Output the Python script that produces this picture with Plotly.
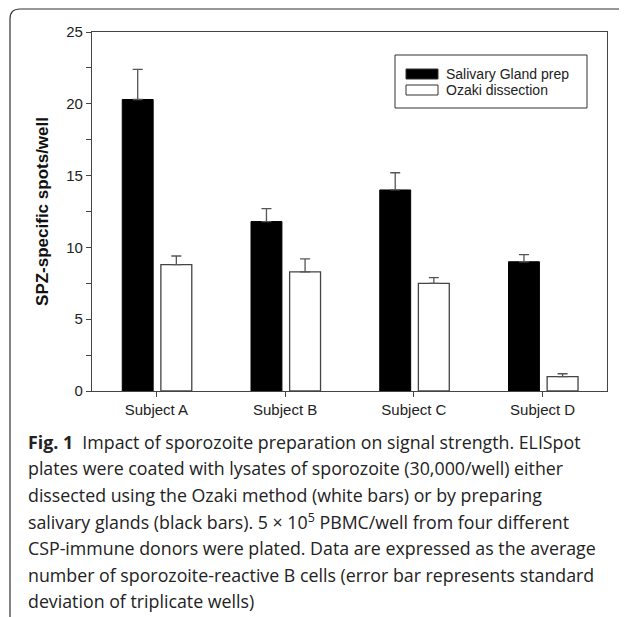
import plotly.graph_objects as go

# ---- data ----
subjects = ["Subject A", "Subject B", "Subject C", "Subject D"]
salivary_vals = [20.3, 11.8, 14.0, 9.0]
salivary_err = [2.1, 0.9, 1.2, 0.5]
ozaki_vals = [8.8, 8.3, 7.5, 1.0]
ozaki_err = [0.6, 0.9, 0.4, 0.2]
series_names = ["Salivary Gland prep", "Ozaki dissection"]
y_title = "SPZ-specific spots/well"
caption_lines = [
    "<b>Fig. 1</b>  Impact of sporozoite preparation on signal strength. ELISpot",
    "plates were coated with lysates of sporozoite (30,000/well) either",
    "dissected using the Ozaki method (white bars) or by preparing",
    "salivary glands (black bars). 5 × 10<sup>5</sup> PBMC/well from four different",
    "CSP-immune donors were plated. Data are expressed as the average",
    "number of sporozoite-reactive B cells (error bar represents standard",
    "deviation of triplicate wells)",
]

# ---- geometry (screen pixels; page body has an 8px margin) ----
SW, SH = 627, 617
OFF = 8
W, H = SW - OFF, SH - OFF
L, R, T, B = 92, 607, 32, 391


def px(x):
    return (x - L) / (R - L)


def py(y):
    return (B - y) / (B - T)


AX = "#444444"
FONT = "Liberation Sans, Arial, sans-serif"

fig = go.Figure()
fig.add_trace(go.Bar(
    x=subjects, y=salivary_vals, name=series_names[0],
    width=0.24, offset=-0.265,
    marker=dict(color="black", line=dict(color="black", width=1)),
    error_y=dict(type="data", array=salivary_err, arrayminus=[0] * 4,
                 symmetric=False, color="#555555", thickness=1.3, width=5),
    showlegend=False,
))
fig.add_trace(go.Bar(
    x=subjects, y=ozaki_vals, name=series_names[1],
    width=0.24, offset=0.035,
    marker=dict(color="white", line=dict(color="#444444", width=1.3)),
    error_y=dict(type="data", array=ozaki_err, arrayminus=[0] * 4,
                 symmetric=False, color="#555555", thickness=1.3, width=5),
    showlegend=False,
))

shapes = []
annotations = []

# custom legend
shapes.append(dict(type="rect", xref="paper", yref="paper",
                   x0=px(395), x1=px(587), y0=py(108), y1=py(55),
                   line=dict(color="#333333", width=1), fillcolor="white"))
for i, (name, fill) in enumerate(zip(series_names, ["black", "white"])):
    cy = 74 + 16 * i
    shapes.append(dict(type="rect", xref="paper", yref="paper",
                       x0=px(406), x1=px(438), y0=py(cy + 5), y1=py(cy - 5),
                       line=dict(color="#333333", width=1), fillcolor=fill))
    annotations.append(dict(xref="paper", yref="paper", x=px(444), y=py(cy),
                            xanchor="left", yanchor="middle", showarrow=False,
                            text=name, font=dict(family=FONT, size=14, color="#222222")))

# outer rounded frame (open at bottom)
fx0, fy0, rr = 10, 9, 10
path = (f"M {px(fx0)} {py(SH + 5)} L {px(fx0)} {py(fy0 + rr)} "
        f"Q {px(fx0)} {py(fy0)} {px(fx0 + rr)} {py(fy0)} "
        f"L {px(SW + 5)} {py(fy0)}")
shapes.append(dict(type="path", xref="paper", yref="paper", path=path,
                   line=dict(color="#333333", width=1.2)))

# caption
for i, line in enumerate(caption_lines):
    annotations.append(dict(xref="paper", yref="paper", x=px(26), y=py(441.5 + 26.66 * i),
                            xanchor="left", yanchor="middle", showarrow=False,
                            text=line, align="left",
                            font=dict(family="Open Sans, Noto Sans, sans-serif",
                                      size=17.8, color="#222222")))

fig.update_layout(
    width=W, height=H,
    margin=dict(l=L - OFF, r=SW - R, t=T - OFF, b=SH - B),
    paper_bgcolor="white", plot_bgcolor="white",
    barmode="overlay",
    showlegend=False,
    shapes=shapes,
    annotations=annotations,
    font=dict(family=FONT, color="#222222"),
)
fig.update_xaxes(
    range=[-0.5, 3.5], showline=True, linecolor=AX, linewidth=1.3, mirror=True,
    ticks="outside", ticklen=5, tickcolor=AX, tickwidth=1.3,
    tickfont=dict(family=FONT, size=15, color="#222222"),
    showgrid=False, zeroline=False, automargin=False,
)
fig.update_yaxes(
    range=[0, 25], dtick=5, showline=True, linecolor=AX, linewidth=1.3, mirror=True,
    ticks="outside", ticklen=5, tickcolor=AX, tickwidth=1.3,
    minor=dict(dtick=2.5, ticks="outside", ticklen=5, tickcolor=AX, tickwidth=1.3, showgrid=False),
    tickfont=dict(family=FONT, size=15, color="#222222"),
    showgrid=False, zeroline=False, automargin=False,
    title=dict(text=f"<b>{y_title}</b>", font=dict(family=FONT, size=17, color="#111111"), standoff=13),
)

fig.write_html("out.html")
